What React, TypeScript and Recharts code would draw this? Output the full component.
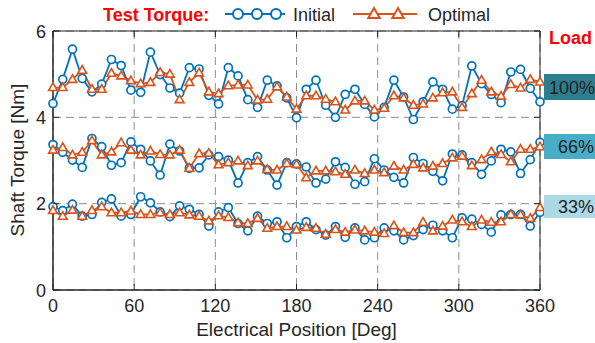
import { LineChart, Line, XAxis, YAxis, CartesianGrid, ReferenceArea } from "recharts";

const FONT = '"Liberation Sans", Arial, Helvetica, sans-serif';
const BLUE = "#0072BD";
const ORANGE = "#D95319";
const AXIS = "#262626";

// electrical position of each sample [deg]
const angles = [
  0, 7.2, 14.4, 21.6, 28.8, 36, 43.2, 50.4, 57.6, 64.8, 72, 79.2, 86.4, 93.6, 100.8, 108, 115.2,
  122.4, 129.6, 136.8, 144, 151.2, 158.4, 165.6, 172.8, 180, 187.2, 194.4, 201.6, 208.8, 216, 223.2,
  230.4, 237.6, 244.8, 252, 259.2, 266.4, 273.6, 280.8, 288, 295.2, 302.4, 309.6, 316.8, 324, 331.2,
  338.4, 345.6, 352.8, 360,
];

const initial100 = [
  4.32, 4.88, 5.58, 4.9, 4.59, 4.77, 5.34, 5.2, 4.63, 4.58, 5.51, 4.99, 4.68, 4.56, 5.15, 5.12, 4.51,
  4.31, 5.15, 4.96, 4.41, 4.23, 4.86, 4.73, 4.45, 3.99, 4.65, 4.86, 4.28, 4.0, 4.53, 4.65, 4.3, 4.01,
  4.23, 4.86, 4.47, 3.95, 4.36, 4.82, 4.65, 4.19, 4.27, 5.19, 4.78, 4.53, 4.34, 5.05, 5.11, 4.67, 4.36,
];
const optimal100 = [
  4.69, 4.69, 4.88, 5.09, 4.65, 4.65, 5.02, 4.96, 4.85, 4.78, 4.81, 5.04, 5.0, 4.41, 4.81, 5.03, 4.59,
  4.55, 4.73, 4.75, 4.75, 4.4, 4.42, 4.71, 4.47, 4.19, 4.5, 4.5, 4.42, 4.36, 4.17, 4.38, 4.38, 4.17,
  4.21, 4.5, 4.45, 4.28, 4.31, 4.45, 4.57, 4.59, 4.23, 4.55, 4.86, 4.59, 4.49, 4.76, 4.68, 4.88, 4.82,
];
const initial66 = [
  3.37, 3.19, 3.01, 2.84, 3.51, 3.32, 2.89, 2.95, 3.43, 3.26, 2.99, 2.66, 3.38, 3.22, 2.82, 2.83, 3.13,
  3.09, 3.01, 2.48, 2.95, 3.09, 2.78, 2.43, 2.95, 2.92, 2.85, 2.48, 2.57, 2.97, 2.84, 2.45, 2.51, 3.04,
  2.78, 2.61, 2.48, 3.07, 2.93, 2.75, 2.53, 3.15, 3.13, 2.95, 2.68, 2.99, 3.26, 3.2, 2.7, 3.02, 3.42,
];
const optimal66 = [
  3.24, 3.3, 3.13, 3.19, 3.46, 3.13, 3.2, 3.41, 3.24, 3.13, 3.22, 3.14, 3.13, 3.24, 2.82, 3.16, 3.17,
  2.9, 2.95, 2.99, 2.88, 2.99, 2.79, 2.78, 2.93, 2.91, 2.6, 2.76, 2.76, 2.74, 2.68, 2.78, 2.7, 2.78,
  2.72, 2.87, 2.78, 2.91, 2.83, 2.87, 2.93, 3.06, 3.1, 2.88, 3.02, 3.2, 3.14, 2.97, 3.26, 3.26, 3.32,
];
const initial33 = [
  1.93, 1.84, 1.99, 1.71, 1.75, 2.03, 2.11, 1.71, 1.75, 2.16, 2.02, 1.81, 1.7, 1.95, 1.87, 1.75, 1.48,
  1.81, 1.91, 1.54, 1.37, 1.71, 1.54, 1.58, 1.21, 1.47, 1.58, 1.4, 1.27, 1.47, 1.22, 1.44, 1.16, 1.21,
  1.44, 1.37, 1.16, 1.26, 1.4, 1.5, 1.37, 1.21, 1.67, 1.64, 1.52, 1.34, 1.74, 1.75, 1.75, 1.48, 1.8,
];
const optimal33 = [
  1.84, 1.71, 1.85, 1.71, 1.84, 1.93, 1.79, 1.79, 1.83, 1.75, 1.75, 1.79, 1.75, 1.79, 1.74, 1.71, 1.6,
  1.72, 1.68, 1.56, 1.54, 1.66, 1.43, 1.47, 1.47, 1.39, 1.45, 1.43, 1.29, 1.4, 1.34, 1.39, 1.37, 1.34,
  1.31, 1.49, 1.33, 1.33, 1.57, 1.37, 1.48, 1.62, 1.58, 1.47, 1.62, 1.57, 1.58, 1.75, 1.74, 1.66, 1.91,
];

const xTicks = [0, 60, 120, 180, 240, 300, 360];
const yTicks = [0, 2, 4, 6];

const loadLabels = [
  { text: "100%", fill: "#2E7D8F", top: 74, height: 26, x: 549 },
  { text: "66%", fill: "#48ADC6", top: 134, height: 25, x: 558 },
  { text: "33%", fill: "#ADD8E6", top: 195, height: 23, x: 558 },
];

const data = angles.map((a, i) => ({
  angle: a,
  i100: initial100[i],
  o100: optimal100[i],
  i66: initial66[i],
  o66: optimal66[i],
  i33: initial33[i],
  o33: optimal33[i],
}));

// plot box edges in chart pixels
const TOP = 31;
const RIGHT = 540;

const triangle = (cx: number, cy: number, s: number) =>
  `M${cx},${cy - s} L${cx + s * 0.95},${cy + s * 0.65} L${cx - s * 0.95},${cy + s * 0.65} Z`;

const TriDot = (props: any) => {
  const { cx, cy, index } = props;
  if (cx == null || cy == null) return <g key={index} />;
  return (
    <path key={index} d={triangle(cx, cy, 4.6)} fill="#fff" stroke={ORANGE} strokeWidth={1.6} />
  );
};

const circleDot = { r: 4, fill: "#fff", stroke: BLUE, strokeWidth: 1.7 };

const XTick = (props: any) => {
  const { x, y, payload } = props;
  return (
    <g>
      <line x1={x} y1={y} x2={x} y2={y - 6} stroke={AXIS} />
      <line x1={x} y1={TOP} x2={x} y2={TOP + 6} stroke={AXIS} />
      <text x={x} y={y + 22} textAnchor="middle" fontSize={18} fill={AXIS} fontFamily={FONT}>
        {payload.value}
      </text>
    </g>
  );
};

const YTick = (props: any) => {
  const { x, y, payload } = props;
  return (
    <g>
      <line x1={x} y1={y} x2={x + 6} y2={y} stroke={AXIS} />
      <line x1={RIGHT} y1={y} x2={RIGHT - 6} y2={y} stroke={AXIS} />
      <text x={x - 7} y={y + 6.5} textAnchor="end" fontSize={18} fill={AXIS} fontFamily={FONT}>
        {payload.value}
      </text>
    </g>
  );
};

export default function App() {
  const series = [
    { key: "i100", blue: true },
    { key: "i66", blue: true },
    { key: "i33", blue: true },
    { key: "o100", blue: false },
    { key: "o66", blue: false },
    { key: "o33", blue: false },
  ];

  return (
    <div style={{ position: "absolute", left: 0, top: 0, width: 595, height: 343, background: "#fff", fontFamily: FONT }}>
      <LineChart width={595} height={343} data={data} margin={{ top: TOP, right: 55, bottom: 0, left: 0 }}>
        <CartesianGrid stroke="#8c8c8c" strokeDasharray="8 5" strokeWidth={1} />
        <XAxis
          dataKey="angle"
          type="number"
          domain={[0, 360]}
          ticks={xTicks}
          tick={<XTick />}
          tickLine={false}
          tickSize={0}
          tickMargin={0}
          stroke={AXIS}
          height={53}
          label={{ value: "Electrical Position [Deg]", position: "insideBottom", offset: 7, fontSize: 19, fill: AXIS, fontFamily: FONT }}
        />
        <YAxis
          type="number"
          domain={[0, 6]}
          ticks={yTicks}
          tick={<YTick />}
          tickLine={false}
          tickSize={0}
          tickMargin={0}
          stroke={AXIS}
          width={53}
        />
        <ReferenceArea x1={0} x2={360} y1={0} y2={6} fill="none" stroke={AXIS} strokeWidth={1} />
        {series.map((s) => (
          <Line
            key={s.key}
            dataKey={s.key}
            type="linear"
            stroke={s.blue ? BLUE : ORANGE}
            strokeWidth={1.8}
            dot={s.blue ? circleDot : <TriDot />}
            activeDot={false}
            isAnimationActive={false}
          />
        ))}
      </LineChart>

      <svg
        width={595}
        height={343}
        style={{ position: "absolute", left: 0, top: 0, pointerEvents: "none" }}
        fontFamily={FONT}
      >
        <text
          x={0}
          y={0}
          transform="translate(24,160) rotate(-90)"
          textAnchor="middle"
          fontSize={19}
          fill={AXIS}
        >
          Shaft Torque [Nm]
        </text>

        <text x={103} y={21} fontSize={18} fontWeight="bold" fill="#FF0000">
          Test Torque:
        </text>
        <line x1={225} y1={14} x2={285} y2={14} stroke={BLUE} strokeWidth={2} />
        {[238, 257, 276].map((cx) => (
          <circle key={cx} cx={cx} cy={14} r={5} fill="#fff" stroke={BLUE} strokeWidth={2} />
        ))}
        <text x={293} y={21} fontSize={18} fill={AXIS}>
          Initial
        </text>
        <line x1={353} y1={14} x2={417} y2={14} stroke={ORANGE} strokeWidth={2} />
        {[374, 398].map((cx) => (
          <path key={cx} d={triangle(cx, 14, 6)} fill="#fff" stroke={ORANGE} strokeWidth={2} />
        ))}
        <text x={428} y={21} fontSize={18} fill={AXIS}>
          Optimal
        </text>

        <text x={549} y={44} fontSize={18} fontWeight="bold" fill="#FF0000">
          Load
        </text>
        {loadLabels.map((l) => (
          <g key={l.text}>
            <rect x={544} y={l.top} width={51} height={l.height} fill={l.fill} />
            <text x={l.x} y={l.top + l.height / 2 + 6.5} fontSize={18} fill="#222">
              {l.text}
            </text>
          </g>
        ))}
      </svg>
    </div>
  );
}
